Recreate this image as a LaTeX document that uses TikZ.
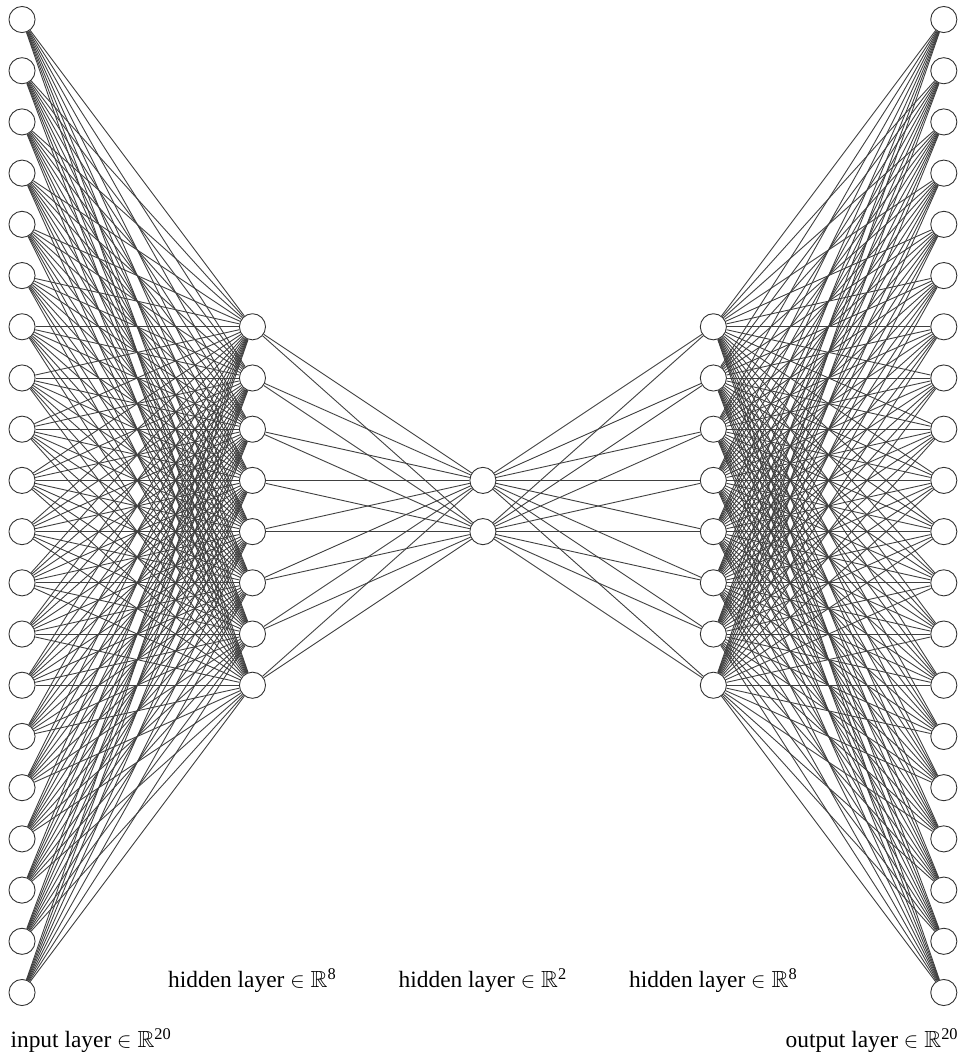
\documentclass[tikz,border=0pt]{standalone}
\usepackage{fontspec}
\usepackage{amsmath,amssymb}
\setmainfont{Liberation Serif}
\begin{document}
\begin{tikzpicture}[
  neuron/.style={circle, draw=black!80, fill=white, line width=0.5pt, inner sep=0pt, minimum size=0.51cm},
  layerlabel/.style={font=\fontsize{13}{15}\selectfont, inner sep=0pt},
  edge/.style={draw=black!75, line width=0.5pt}]

\useasboundingbox (0,0) rectangle (18.93,-20.66);

% Nodes
\foreach \i in {1,...,20} {
  \node[neuron] (I\i) at (0.43,{-0.381-(\i-1)}) {};
  \node[neuron] (O\i) at (18.43,{-0.381-(\i-1)}) {};
}
\foreach \i in {1,...,8} {
  \node[neuron] (H\i) at (4.93,{-6.381-(\i-1)}) {};
  \node[neuron] (K\i) at (13.93,{-6.381-(\i-1)}) {};
}
\foreach \i in {1,2} {
  \node[neuron] (M\i) at (9.43,{-9.381-(\i-1)}) {};
}

% Edges
\foreach \i in {1,...,20}
  \foreach \j in {1,...,8} {
    \draw[edge] (I\i) -- (H\j);
    \draw[edge] (K\j) -- (O\i);
  }
\foreach \j in {1,...,8}
  \foreach \k in {1,2} {
    \draw[edge] (H\j) -- (M\k);
    \draw[edge] (M\k) -- (K\j);
  }

% Labels
\node[layerlabel] (lH) at (4.93,-19.15) {hidden layer $\in\mathbb{R}^{\text{8}}$};
\node[layerlabel] (lM) at (9.43,-19.15) {hidden layer $\in\mathbb{R}^{\text{2}}$};
\node[layerlabel] (lK) at (13.93,-19.15) {hidden layer $\in\mathbb{R}^{\text{8}}$};
\node[layerlabel] (lI) at (1.78,-20.32) {input layer $\in\mathbb{R}^{\text{20}}$};
\node[layerlabel] (lO) at (17.03,-20.32) {output layer $\in\mathbb{R}^{\text{20}}$};

\end{tikzpicture}
\end{document}
